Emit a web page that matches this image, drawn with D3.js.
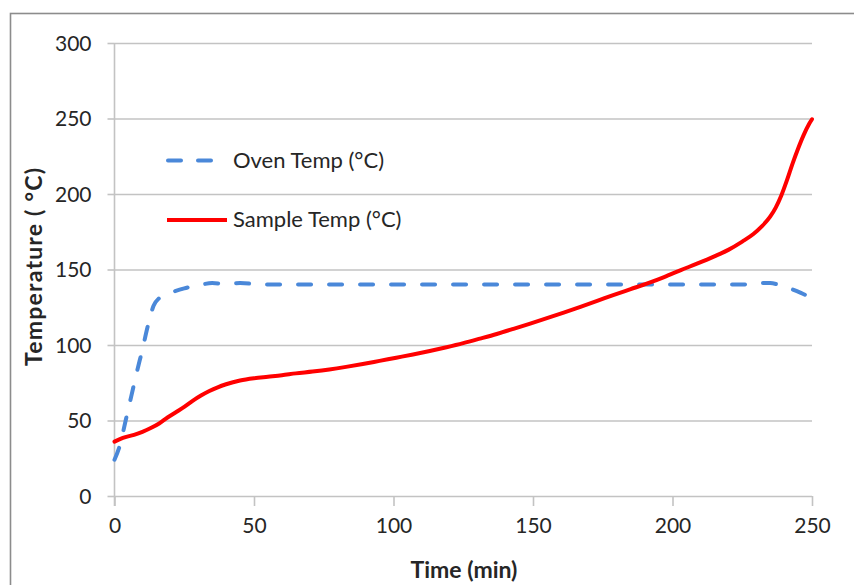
<!DOCTYPE html>
<html>
<head>
<meta charset="utf-8">
<script src="https://cdn.jsdelivr.net/npm/d3@7"></script>
<style>
  html, body { margin: 0; padding: 0; background: #fff; }
  svg { display: block; }
  text { font-family: Lato, "Open Sans", sans-serif; fill: #262626; }
</style>
</head>
<body>
<svg id="chart" width="854" height="585"></svg>
<script>
// Oven set-point and measured sample temperature over time
const ovenTime = [0, 2, 4, 6, 8, 10, 12, 14, 16, 18, 20, 25, 30, 35, 40, 45, 50, 55, 60, 80, 100, 120, 140, 160, 180, 200, 220, 225, 230, 235, 238, 242, 246, 250];
const ovenTemp = [24, 34, 50, 66, 82, 97, 113, 126, 131, 133, 134.5, 137.5, 139.5, 141, 140.5, 141, 140.5, 140, 140, 140, 140, 140, 140, 140, 140, 140, 140, 140, 141, 141, 140, 137.5, 134.5, 131];

const sampleTime = [0, 3, 7, 10, 13, 16, 19, 22, 25, 28, 31, 34, 37, 40, 45, 50, 55, 60, 65, 71, 77, 83, 89, 95, 101, 107, 113, 119, 125, 131, 137, 143, 149, 155, 161, 167, 173, 179, 185, 191, 197, 203, 209, 215, 220, 225, 229, 232, 235, 237, 239, 241, 243, 245, 247, 249, 250];
const sampleTemp = [36, 38.5, 40.5, 42.5, 45, 48, 52, 55.5, 59, 63, 66.5, 69.5, 72, 74, 76.5, 78, 79, 80, 81.2, 82.4, 83.8, 85.5, 87.4, 89.5, 91.6, 93.7, 96, 98.5, 101.2, 104.2, 107.3, 110.7, 114.2, 117.8, 121.5, 125.3, 129.2, 133.2, 137, 140.8, 145, 149.6, 154, 158.7, 163, 168.5, 173.5, 178.5, 185, 191, 199, 209, 220, 230, 239, 246.5, 249.5];

const xTicks = [0, 50, 100, 150, 200, 250];
const yTicks = [0, 50, 100, 150, 200, 250, 300];

const seriesNames = ["Oven Temp (°C)", "Sample Temp (°C)"];
const xTitle = "Time (min)";
const yTitle = "Temperature ( °C)";

const svg = d3.select("#chart");
const W = 854, H = 585;

// outer chart frame
svg.append("rect")
  .attr("x", 10.5).attr("y", 13.5)
  .attr("width", W + 20).attr("height", H + 20)
  .attr("fill", "none").attr("stroke", "#8c8c8c").attr("stroke-width", 1.6);

const x = d3.scaleLinear().domain([0, 250]).range([114.5, 812]);
const y = d3.scaleLinear().domain([0, 300]).range([496, 43]);

const gridColor = "#c3c3c3";

// horizontal gridlines with small outward ticks on the left
const yAxis = d3.axisLeft(y).tickValues(yTicks).tickSize(-(x(250) - x(0))).tickPadding(23).tickFormat(d3.format("d"));
const gy = svg.append("g").attr("transform", `translate(${x(0)},0)`).call(yAxis);
gy.select(".domain").remove();
gy.selectAll(".tick line").attr("stroke", gridColor).attr("stroke-width", 1.6);
gy.selectAll(".tick").append("line")
  .attr("x1", -7).attr("x2", 0).attr("stroke", gridColor).attr("stroke-width", 1.6);
gy.selectAll(".tick text")
  .style("font-size", "21px").attr("fill", "#262626").attr("dy", "0.35em");

// vertical axis line
svg.append("line")
  .attr("x1", x(0)).attr("x2", x(0))
  .attr("y1", y(300)).attr("y2", y(0) + 10)
  .attr("stroke", gridColor).attr("stroke-width", 1.6);

// x axis with downward ticks
const xAxis = d3.axisBottom(x).tickValues(xTicks).tickSize(10).tickPadding(12).tickFormat(d3.format("d"));
const gx = svg.append("g").attr("transform", `translate(0,${y(0)})`).call(xAxis);
gx.select(".domain").remove();
gx.selectAll(".tick line").attr("stroke", gridColor).attr("stroke-width", 1.6);
gx.selectAll(".tick text").style("font-size", "21px").attr("fill", "#262626");

const blue = "#4a88d9";
const red = "#ff0000";

const line = d3.line()
  .x(d => x(d[0]))
  .y(d => y(d[1]))
  .curve(d3.curveMonotoneX);

const ovenData = ovenTime.map((t, i) => [t, ovenTemp[i]]);
const sampleData = sampleTime.map((t, i) => [t, sampleTemp[i]]);

svg.append("path")
  .datum(ovenData)
  .attr("d", line)
  .attr("fill", "none")
  .attr("stroke", blue)
  .attr("stroke-width", 4)
  .attr("stroke-linecap", "round")
  .attr("stroke-dasharray", "13,18");

svg.append("path")
  .datum(sampleData)
  .attr("d", line)
  .attr("fill", "none")
  .attr("stroke", red)
  .attr("stroke-width", 4)
  .attr("stroke-linejoin", "round")
  .attr("stroke-linecap", "round");

// legend
const legend = svg.append("g");
legend.append("line")
  .attr("x1", 168).attr("x2", 214).attr("y1", 160.5).attr("y2", 160.5)
  .attr("stroke", blue).attr("stroke-width", 4)
  .attr("stroke-linecap", "round").attr("stroke-dasharray", "13,17");
legend.append("text")
  .attr("x", 233).attr("y", 167.5)
  .style("font-size", "22px")
  .text(seriesNames[0]);
legend.append("line")
  .attr("x1", 167).attr("x2", 227).attr("y1", 220).attr("y2", 220)
  .attr("stroke", red).attr("stroke-width", 4);
legend.append("text")
  .attr("x", 233).attr("y", 227)
  .style("font-size", "22px")
  .text(seriesNames[1]);

// axis titles
svg.append("text")
  .attr("x", 464).attr("y", 578)
  .attr("text-anchor", "middle")
  .style("font-size", "23px").style("font-weight", "bold")
  .text(xTitle);

svg.append("text")
  .attr("transform", "translate(42,267) rotate(-90)")
  .attr("text-anchor", "middle")
  .style("font-size", "23px").style("font-weight", "bold")
  .attr("textLength", 198).attr("lengthAdjust", "spacing")
  .text(yTitle);
</script>
</body>
</html>
